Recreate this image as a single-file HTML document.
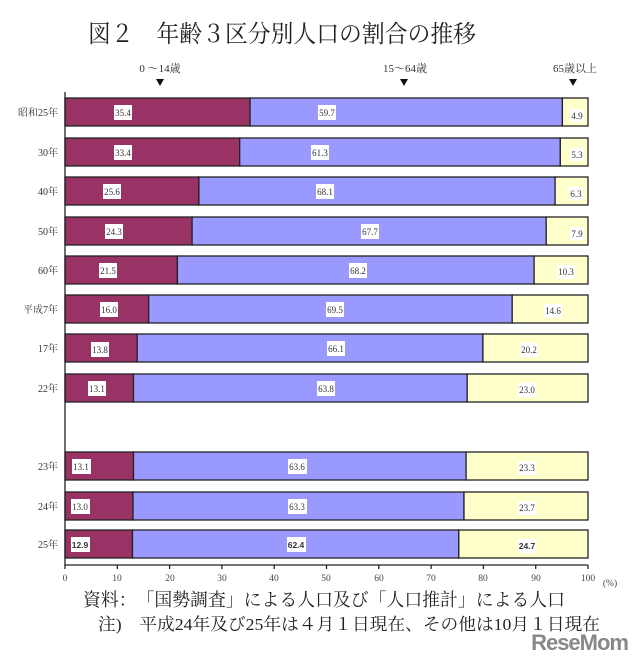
<!DOCTYPE html>
<html><head><meta charset="utf-8"><style>
body{margin:0;background:#fff;}
svg{display:block;font-family:"Liberation Serif","Noto Serif CJK SC",serif;}
.c{font-size:10px;fill:#333;text-anchor:end}
.v{font-size:9px;fill:#333;text-anchor:middle}
.t{font-size:9.5px;fill:#444;text-anchor:middle}
</style></head><body>
<svg width="640" height="658" viewBox="0 0 640 658" xmlns="http://www.w3.org/2000/svg">
<text x="88" y="42" font-size="24" fill="#222" textLength="388" lengthAdjust="spacingAndGlyphs">図２　年齢３区分別人口の割合の推移</text>
<text x="160" y="72" font-size="11" fill="#333" text-anchor="middle">0 ～14歳</text>
<text x="405" y="72" font-size="11" fill="#333" text-anchor="middle">15～64歳</text>
<text x="575" y="72" font-size="11" fill="#333" text-anchor="middle">65歳以上</text>
<path d="M156,79h8l-4,7z M400,79h8l-4,7z M569,79h8l-4,7z" fill="#111"/>
<g stroke="#222" stroke-width="1.3">
<rect x="65" y="98" width="185.1" height="28" fill="#993366"/><rect x="250.1" y="98" width="312.3" height="28" fill="#9999ff"/><rect x="562.4" y="98" width="25.6" height="28" fill="#ffffcc"/>
<rect x="65" y="138" width="174.7" height="28" fill="#993366"/><rect x="239.7" y="138" width="320.6" height="28" fill="#9999ff"/><rect x="560.3" y="138" width="27.7" height="28" fill="#ffffcc"/>
<rect x="65" y="177" width="133.9" height="28" fill="#993366"/><rect x="198.9" y="177" width="356.2" height="28" fill="#9999ff"/><rect x="555.1" y="177" width="32.9" height="28" fill="#ffffcc"/>
<rect x="65" y="217" width="127.1" height="28" fill="#993366"/><rect x="192.1" y="217" width="354.1" height="28" fill="#9999ff"/><rect x="546.2" y="217" width="41.8" height="28" fill="#ffffcc"/>
<rect x="65" y="256" width="112.4" height="28" fill="#993366"/><rect x="177.4" y="256" width="356.7" height="28" fill="#9999ff"/><rect x="534.1" y="256" width="53.9" height="28" fill="#ffffcc"/>
<rect x="65" y="295" width="83.7" height="28" fill="#993366"/><rect x="148.7" y="295" width="363.5" height="28" fill="#9999ff"/><rect x="512.2" y="295" width="75.8" height="28" fill="#ffffcc"/>
<rect x="65" y="334" width="72.2" height="28" fill="#993366"/><rect x="137.2" y="334" width="345.7" height="28" fill="#9999ff"/><rect x="482.9" y="334" width="105.1" height="28" fill="#ffffcc"/>
<rect x="65" y="374" width="68.5" height="28" fill="#993366"/><rect x="133.5" y="374" width="333.7" height="28" fill="#9999ff"/><rect x="467.2" y="374" width="120.8" height="28" fill="#ffffcc"/>
<rect x="65" y="452" width="68.5" height="28" fill="#993366"/><rect x="133.5" y="452" width="332.6" height="28" fill="#9999ff"/><rect x="466.1" y="452" width="121.9" height="28" fill="#ffffcc"/>
<rect x="65" y="492" width="68" height="28" fill="#993366"/><rect x="133" y="492" width="331" height="28" fill="#9999ff"/><rect x="464" y="492" width="124" height="28" fill="#ffffcc"/>
<rect x="65" y="530" width="67.5" height="28" fill="#993366"/><rect x="132.5" y="530" width="326.3" height="28" fill="#9999ff"/><rect x="458.8" y="530" width="129.2" height="28" fill="#ffffcc"/>
</g>
<g fill="#fff">
<rect x="114" y="105" width="18" height="15"/><rect x="318" y="105" width="18" height="15"/><rect x="570" y="109" width="14" height="13"/>
<rect x="114" y="145" width="18" height="15"/><rect x="311" y="145" width="18" height="15"/><rect x="570" y="148" width="14" height="13"/>
<rect x="103" y="184" width="18" height="15"/><rect x="316" y="184" width="18" height="15"/><rect x="569" y="187" width="14" height="13"/>
<rect x="105" y="224" width="18" height="15"/><rect x="361" y="224" width="18" height="15"/><rect x="570" y="227" width="14" height="13"/>
<rect x="99" y="263" width="18" height="15"/><rect x="349" y="263" width="18" height="15"/><rect x="557" y="265" width="18" height="14"/>
<rect x="100" y="302" width="18" height="15"/><rect x="326" y="302" width="18" height="15"/><rect x="544" y="304" width="18" height="14"/>
<rect x="91" y="342" width="18" height="15"/><rect x="327" y="341" width="18" height="15"/><rect x="520" y="343" width="18" height="14"/>
<rect x="88" y="381" width="18" height="15"/><rect x="317" y="381" width="18" height="15"/><rect x="518" y="383" width="18" height="14"/>
<rect x="72" y="459" width="19" height="15"/><rect x="288" y="459" width="19" height="15"/><rect x="518" y="461" width="18" height="14"/>
<rect x="71" y="499" width="19" height="15"/><rect x="288" y="499" width="19" height="15"/><rect x="518" y="501" width="18" height="14"/>
<rect x="71" y="537" width="19" height="15"/><rect x="287" y="537" width="19" height="15"/><rect x="518" y="539" width="18" height="14"/>
</g>
<g class="v">
<text x="123" y="116">35.4</text><text x="327" y="116">59.7</text><text x="577" y="119">4.9</text>
<text x="123" y="156">33.4</text><text x="320" y="156">61.3</text><text x="577" y="158">5.3</text>
<text x="112" y="195">25.6</text><text x="325" y="195">68.1</text><text x="576" y="197">6.3</text>
<text x="114" y="235">24.3</text><text x="370" y="235">67.7</text><text x="577" y="237">7.9</text>
<text x="108" y="274">21.5</text><text x="358" y="274">68.2</text><text x="566" y="275">10.3</text>
<text x="109" y="313">16.0</text><text x="335" y="313">69.5</text><text x="553" y="314">14.6</text>
<text x="100" y="353">13.8</text><text x="336" y="352">66.1</text><text x="529" y="353">20.2</text>
<text x="97" y="392">13.1</text><text x="326" y="392">63.8</text><text x="527" y="393">23.0</text>
<text x="81" y="470">13.1</text><text x="297" y="470">63.6</text><text x="527" y="471">23.3</text>
<text x="80" y="510">13.0</text><text x="297" y="510">63.3</text><text x="527" y="511">23.7</text>
<text x="80" y="548" font-family="Liberation Sans,sans-serif" font-weight="bold" font-size="8.5">12.9</text><text x="296" y="548" font-family="Liberation Sans,sans-serif" font-weight="bold" font-size="8.5">62.4</text><text x="527" y="549" font-family="Liberation Sans,sans-serif" font-weight="bold" font-size="8.5">24.7</text>
</g>
<g class="c">
<text x="58" y="116">昭和25年</text><text x="58" y="156">30年</text><text x="58" y="195">40年</text><text x="58" y="235">50年</text><text x="58" y="274">60年</text><text x="58" y="313">平成7年</text><text x="58" y="352">17年</text><text x="58" y="392">22年</text><text x="58" y="470">23年</text><text x="58" y="510">24年</text><text x="58" y="548">25年</text>
</g>
<g stroke="#222" stroke-width="1.3" fill="none">
<path d="M65,92V565H588"/>
<path d="M117.3,565v4M169.6,565v4M221.9,565v4M274.2,565v4M326.5,565v4M378.8,565v4M431.1,565v4M483.4,565v4M535.7,565v4M588,565v4M65,565v4"/>
</g>
<g class="t">
<text x="65" y="581">0</text><text x="117" y="581">10</text><text x="170" y="581">20</text><text x="222" y="581">30</text><text x="274" y="581">40</text><text x="326" y="581">50</text><text x="379" y="581">60</text><text x="431" y="581">70</text><text x="483" y="581">80</text><text x="536" y="581">90</text><text x="588" y="581">100</text><text x="610" y="586">(%)</text>
</g>
<text x="83" y="606" font-size="18" fill="#222" textLength="482" lengthAdjust="spacingAndGlyphs">資料：　「国勢調査」による人口及び「人口推計」による人口</text>
<text x="98" y="630" font-size="17" fill="#222" textLength="502" lengthAdjust="spacingAndGlyphs">注)　平成24年及び25年は４月１日現在、その他は10月１日現在</text>
<text x="628" y="650" font-size="22" font-weight="bold" fill="#888" text-anchor="end" font-family="Liberation Sans,sans-serif" letter-spacing="-1">ReseMom</text>
</svg>
</body></html>
